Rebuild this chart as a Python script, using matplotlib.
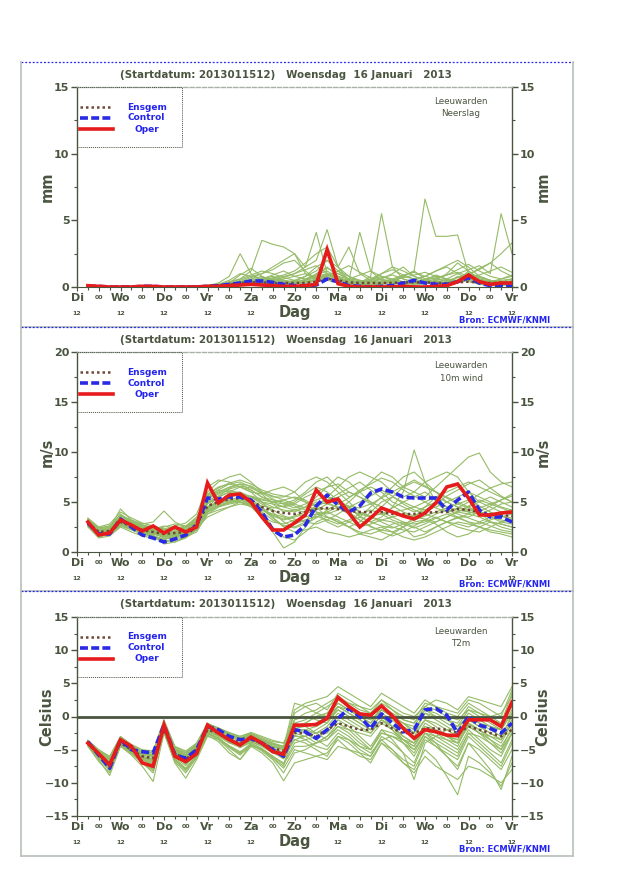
import matplotlib
matplotlib.use('Agg')
import matplotlib.pyplot as plt
from matplotlib.patches import Rectangle
from matplotlib.lines import Line2D
from matplotlib.ticker import MultipleLocator, FixedLocator

plt.rcParams['font.family'] = ['DejaVu Sans']

# ---------------- data ----------------
hours = list(range(6, 241, 6))          # forecast hours after 2013011512
day_hours = list(range(0, 241, 24))
day_names = ['Di', 'Wo', 'Do', 'Vr', 'Za', 'Zo', 'Ma', 'Di', 'Wo', 'Do', 'Vr']
midnight_hours = list(range(12, 241, 24))
midnight_label = '00'
noon_label = '12'

title_text = '(Startdatum: 2013011512)   Woensdag  16 Januari   2013'
station = 'Leeuwarden'
source_text = 'Bron: ECMWF/KNMI'
legend_names = ['Ensgem', 'Control', 'Oper']

# --- Neerslag (mm) ---
precip_oper = [0.1, 0.05, 0, 0, 0, 0.05, 0.05, 0, 0, 0,
               0, 0.05, 0.05, 0.1, 0.15, 0.2, 0.15, 0.1, 0.05, 0.05,
               0.1, 0.2, 2.8, 0.25, 0.05, 0, 0, 0, 0, 0.05,
               0, 0, 0.05, 0.1, 0.4, 0.9, 0.4, 0.2, 0.3, 0.3]
precip_control = [0.05, 0.05, 0, 0, 0, 0.05, 0.05, 0, 0, 0,
                  0, 0.05, 0.1, 0.2, 0.3, 0.45, 0.45, 0.35, 0.2, 0.1,
                  0.1, 0.15, 0.6, 0.4, 0.1, 0.05, 0, 0.05, 0.1, 0.3,
                  0.5, 0.3, 0.2, 0.2, 0.4, 0.7, 0.3, 0.1, 0.1, 0.05]
precip_ensgem = [0.05, 0.03, 0.02, 0.02, 0.02, 0.03, 0.03, 0.02, 0.02, 0.03,
                 0.05, 0.08, 0.12, 0.2, 0.3, 0.35, 0.35, 0.3, 0.3, 0.3,
                 0.3, 0.4, 0.65, 0.5, 0.35, 0.3, 0.3, 0.3, 0.3, 0.35,
                 0.35, 0.35, 0.3, 0.3, 0.35, 0.4, 0.35, 0.3, 0.3, 0.3]
Z10 = [0, 0, 0, 0, 0, 0, 0, 0, 0, 0]
precip_members = [
    [0.1, 0, 0, 0, 0, 0.1, 0, 0, 0, 0] + [0, 0.1, 0.3, 0.8, 2.5, 1.0, 0.5, 0.3, 0.2, 0.3] + [0.5, 1.0, 1.5, 0.8, 0.3, 0.2, 0.1, 0.2, 0.5, 0.3] + [0.2, 0.4, 0.3, 0.2, 0.5, 1.2, 0.6, 0.4, 0.3, 0.5],
    Z10 + [0.1, 0.1, 0.2, 0.4, 0.6, 1.2, 3.5, 3.2, 3.0, 2.5] + [1.0, 0.5, 0.8, 0.3, 0.1, 0, 0, 0.2, 0.5, 0.8] + [0.6, 0.3, 0.2, 0.1, 0.3, 0.5, 0.2, 0.1, 0.1, 0.2],
    Z10 + [0, 0, 0.1, 0.2, 0.5, 0.8, 1.0, 1.5, 2.0, 2.5] + [1.5, 4.1, 1.0, 0.4, 0.2, 0.1, 0.3, 0.6, 0.4, 0.2] + [0.1, 0.3, 0.5, 0.3, 0.8, 0.4, 0.2, 0.3, 0.4, 0.3],
    Z10 + [0, 0, 0, 0.1, 0.3, 0.6, 0.8, 0.5, 0.7, 1.0] + [1.5, 2.0, 4.3, 1.5, 0.5, 4.1, 1.2, 0.5, 0.3, 0.8] + [1.2, 0.6, 0.3, 0.2, 0.5, 1.0, 0.8, 0.5, 0.3, 0.2],
    Z10 + [0, 0.05, 0.1, 0.2, 0.4, 0.5, 0.3, 0.2, 0.1, 0.4] + [0.8, 1.5, 2.0, 1.2, 0.5, 0.3, 0.8, 5.5, 1.5, 0.6] + [0.3, 0.5, 0.9, 0.6, 0.4, 0.5, 0.3, 0.2, 0.4, 0.6],
    Z10 + [0, 0, 0.1, 0.3, 0.9, 1.4, 0.8, 0.4, 0.2, 0.3] + [0.5, 0.8, 1.0, 0.6, 0.3, 0.2, 0.1, 0.3, 0.5, 0.8] + [1.2, 6.6, 3.8, 3.8, 3.9, 1.0, 0.5, 0.3, 0.2, 0.1],
    Z10 + [0, 0, 0, 0.1, 0.2, 0.4, 0.6, 0.8, 0.5, 0.3] + [0.2, 0.5, 0.9, 0.6, 0.3, 0.2, 0.4, 0.6, 1.0, 1.5] + [0.8, 0.5, 0.3, 0.6, 1.0, 1.3, 1.6, 1.0, 5.5, 2.5],
    Z10 + [0, 0.1, 0.2, 0.5, 1.0, 0.8, 0.6, 0.4, 0.3, 0.5] + [0.8, 1.2, 2.0, 1.5, 0.8, 0.4, 0.2, 0.1, 0.2, 0.4] + [0.3, 0.2, 0.5, 1.0, 1.8, 1.2, 0.6, 0.3, 0.2, 0.3],
    Z10 + [0, 0, 0.1, 0.2, 0.3, 0.4, 0.3, 0.2, 0.2, 0.3] + [0.4, 0.5, 0.6, 0.4, 0.3, 0.2, 0.2, 0.3, 0.4, 0.3] + [0.2, 0.3, 0.4, 0.5, 0.4, 0.6, 0.5, 0.4, 0.3, 0.4],
    Z10 + [0, 0, 0.1, 0.2, 0.4, 0.7, 1.0, 1.3, 1.8, 2.0] + [1.2, 0.6, 0.8, 1.0, 0.6, 0.3, 0.5, 1.0, 1.5, 1.2] + [0.8, 0.5, 0.4, 0.3, 0.5, 0.8, 0.6, 0.4, 0.5, 0.6],
    Z10 + [0, 0, 0, 0.1, 0.2, 0.3, 0.5, 0.7, 0.9, 1.2] + [1.8, 2.5, 3.0, 1.5, 3.0, 1.0, 0.5, 0.3, 0.2, 0.3] + [0.5, 0.8, 1.2, 1.5, 1.0, 0.6, 0.4, 0.3, 0.2, 0.2],
    Z10 + [0, 0, 0, 0, 0.1, 0.2, 0.3, 0.5, 0.4, 0.3] + [0.6, 0.9, 1.2, 0.7, 0.4, 0.3, 0.6, 1.0, 1.3, 0.9] + [0.6, 0.8, 1.2, 1.6, 2.0, 1.5, 0.8, 0.5, 0.4, 0.3],
    Z10 + [0, 0, 0.05, 0.1, 0.2, 0.3, 0.4, 0.6, 0.8, 1.0] + [1.3, 1.6, 1.0, 0.8, 0.6, 0.9, 1.2, 0.8, 0.5, 0.3] + [0.4, 0.6, 0.8, 0.6, 0.5, 0.9, 1.4, 1.8, 1.2, 0.8],
    Z10 + [0, 0, 0, 0.1, 0.3, 0.5, 0.7, 0.6, 0.4, 0.3] + [0.5, 0.7, 0.9, 1.2, 0.8, 0.5, 0.3, 0.4, 0.6, 0.9] + [1.1, 0.8, 0.6, 0.5, 0.7, 1.0, 1.3, 1.8, 2.5, 3.3],
    Z10 + [0, 0, 0.1, 0.3, 0.6, 0.9, 1.2, 1.0, 0.7, 0.5] + [0.4, 0.6, 1.0, 0.7, 0.5, 0.4, 0.6, 0.8, 0.6, 0.4] + [0.3, 0.5, 0.7, 0.9, 1.1, 0.8, 0.5, 0.4, 0.6, 0.8],
    Z10 + [0, 0, 0, 0.1, 0.2, 0.4, 0.6, 0.9, 1.2, 0.8] + [0.6, 0.9, 1.4, 1.0, 0.6, 0.5, 0.4, 0.3, 0.5, 0.7] + [0.9, 1.1, 0.8, 0.6, 0.4, 0.6, 0.9, 1.2, 1.5, 1.1],
    Z10 + [0, 0, 0.1, 0.2, 0.3, 0.2, 0.2, 0.4, 0.6, 0.8] + [1.0, 0.7, 0.5, 0.3, 0.2, 0.3, 0.5, 0.7, 0.9, 0.6] + [0.4, 0.3, 0.2, 0.4, 0.7, 1.0, 0.7, 0.5, 0.3, 0.2],
    Z10 + [0, 0, 0, 0, 0.1, 0.2, 0.4, 0.6, 0.5, 0.4] + [0.3, 0.5, 0.8, 1.2, 1.6, 1.1, 0.7, 0.5, 0.3, 0.2] + [0.3, 0.4, 0.6, 0.9, 1.3, 1.7, 1.2, 0.8, 0.6, 0.9],
]

# --- 10m wind (m/s) ---
wind_oper = [3.0, 1.7, 1.9, 3.2, 2.7, 2.1, 2.6, 1.9, 2.5, 2.0,
             2.5, 6.9, 4.9, 5.7, 5.8, 5.0, 3.5, 2.2, 2.2, 2.9,
             3.7, 6.2, 5.0, 5.3, 3.9, 2.5, 3.4, 4.4, 4.0, 3.6,
             3.3, 3.9, 4.9, 6.5, 6.8, 5.4, 3.7, 3.7, 3.9, 4.0]
wind_control = [2.9, 1.8, 1.8, 3.3, 2.5, 1.7, 1.4, 1.0, 1.3, 1.7,
                2.7, 5.4, 5.3, 5.5, 5.5, 5.2, 4.0, 2.2, 1.5, 1.7,
                2.7, 4.6, 5.7, 4.7, 4.0, 4.6, 5.9, 6.3, 6.0, 5.5,
                5.4, 5.4, 5.4, 4.2, 5.2, 6.0, 4.2, 3.5, 3.5, 3.0]
wind_ensgem = [2.9, 2.0, 2.1, 3.0, 2.6, 2.2, 2.0, 1.8, 1.9, 2.0,
               2.8, 4.6, 5.0, 5.3, 5.4, 5.2, 4.5, 4.1, 3.9, 3.8,
               4.0, 4.3, 4.4, 4.3, 4.1, 4.0, 4.0, 4.0, 3.8, 3.8,
               3.8, 3.9, 4.0, 4.0, 4.3, 4.2, 4.0, 3.8, 3.7, 3.6]
wind_members = [
    [3.3, 2.3, 2.5, 3.8, 3.0, 2.6, 2.4, 2.2, 2.4, 2.6, 3.5, 5.5, 6.0, 6.5, 6.8, 6.2, 5.5, 5.0, 4.5, 4.8, 5.5, 6.0, 6.5, 6.8, 6.0, 5.5, 5.0, 4.5, 5.5, 6.5, 7.0, 6.5, 6.0, 5.5, 5.0, 4.5, 5.0, 5.5, 5.0, 4.5],
    [2.6, 1.5, 1.8, 2.6, 2.2, 1.8, 1.5, 1.2, 1.0, 1.4, 2.2, 3.8, 4.2, 4.5, 4.8, 4.6, 3.8, 2.5, 1.5, 1.2, 2.0, 3.0, 3.5, 3.2, 2.5, 2.0, 1.8, 2.2, 2.8, 3.0, 2.5, 2.0, 2.5, 3.0, 3.5, 3.0, 2.5, 2.2, 2.0, 1.8],
    [3.0, 2.2, 2.4, 4.3, 3.2, 2.8, 3.0, 4.1, 3.0, 2.5, 3.0, 5.0, 5.8, 6.2, 5.8, 5.5, 5.2, 5.0, 4.8, 5.2, 6.0, 7.0, 7.5, 6.5, 5.5, 6.0, 7.0, 8.0, 7.5, 6.5, 6.0, 5.5, 6.5, 7.5, 8.5, 9.5, 9.9, 8.0, 7.0, 6.5],
    [2.8, 1.8, 2.0, 3.2, 2.5, 2.0, 1.8, 1.5, 1.7, 1.8, 2.5, 4.8, 5.5, 6.0, 6.5, 6.0, 5.0, 4.0, 3.0, 2.5, 3.0, 4.5, 5.5, 5.0, 4.5, 3.5, 3.0, 3.5, 4.5, 6.0, 10.2, 7.0, 5.0, 4.0, 3.5, 3.5, 4.0, 3.5, 3.0, 2.8],
    [3.1, 2.1, 2.2, 3.1, 2.8, 2.4, 2.2, 1.9, 2.0, 2.2, 3.2, 6.0, 7.0, 7.5, 7.8, 7.0, 6.0, 5.5, 5.5, 6.0, 7.0, 7.5, 7.0, 6.0, 5.0, 4.0, 3.5, 3.0, 2.5, 2.2, 2.0, 2.5, 3.0, 3.5, 4.0, 4.5, 4.0, 3.0, 2.5, 2.2],
    [2.7, 1.9, 2.0, 2.8, 2.4, 2.0, 1.7, 0.8, 1.0, 1.5, 2.4, 3.5, 4.0, 4.5, 5.0, 4.8, 4.0, 2.0, 0.4, 1.0, 2.5, 3.8, 4.0, 3.5, 3.0, 2.5, 2.8, 3.2, 3.0, 2.5, 1.5, 1.8, 2.5, 3.0, 2.8, 2.5, 3.0, 3.5, 3.2, 3.0],
    [3.2, 2.4, 2.6, 3.5, 3.0, 2.5, 2.2, 2.5, 2.8, 2.6, 3.0, 4.5, 5.5, 6.0, 6.0, 5.5, 5.0, 4.8, 4.5, 4.2, 4.0, 4.5, 5.5, 6.5, 7.5, 8.0, 7.5, 7.0, 6.0, 5.5, 6.0, 7.0, 7.5, 8.0, 7.5, 6.0, 5.0, 4.5, 4.0, 3.8],
    [2.9, 2.0, 2.1, 3.0, 2.7, 2.3, 2.0, 1.7, 1.8, 1.9, 2.6, 4.2, 4.8, 5.2, 5.5, 5.6, 5.3, 5.0, 5.2, 5.5, 5.2, 4.5, 3.5, 3.0, 2.5, 3.0, 4.0, 5.0, 5.5, 5.0, 4.5, 4.2, 4.5, 5.0, 5.5, 6.0, 5.5, 5.0, 4.5, 4.2],
    [2.5, 1.4, 1.6, 2.5, 2.0, 1.6, 1.4, 1.0, 1.2, 1.5, 2.0, 3.8, 4.5, 5.0, 5.0, 4.5, 3.5, 3.0, 2.8, 3.2, 3.5, 3.8, 3.5, 3.0, 2.5, 1.8, 1.5, 1.2, 1.8, 2.5, 3.0, 3.2, 2.8, 2.0, 1.5, 1.8, 2.5, 3.0, 2.8, 2.5],
    [3.4, 2.5, 2.8, 4.0, 3.4, 2.9, 2.6, 2.3, 2.6, 2.9, 3.8, 6.5, 7.2, 7.0, 6.5, 6.0, 5.8, 6.2, 6.5, 6.0, 5.0, 4.0, 3.0, 2.5, 3.0, 3.5, 4.5, 5.5, 6.5, 7.5, 8.0, 7.0, 6.0, 5.0, 4.5, 4.0, 3.8, 4.2, 4.8, 5.0],
    [2.8, 1.7, 1.9, 2.9, 2.6, 2.2, 1.9, 1.6, 1.7, 1.8, 2.4, 4.0, 4.6, 4.9, 5.2, 4.8, 4.2, 3.8, 3.5, 3.0, 3.2, 3.5, 4.0, 4.5, 4.2, 3.8, 3.5, 3.2, 3.5, 3.8, 3.5, 3.3, 3.0, 3.5, 4.0, 3.8, 3.5, 3.0, 2.8, 2.5],
    [3.0, 2.0, 2.3, 3.3, 2.9, 2.5, 2.2, 2.0, 2.1, 2.3, 3.0, 5.2, 6.2, 6.8, 7.0, 6.5, 5.8, 4.8, 4.0, 4.2, 4.5, 5.0, 4.8, 4.5, 4.0, 3.2, 2.5, 2.2, 2.0, 2.5, 3.5, 4.5, 5.5, 6.0, 6.5, 7.0, 6.5, 6.0, 5.5, 5.0],
    [2.7, 1.6, 1.7, 2.7, 2.3, 1.9, 1.6, 1.3, 1.5, 1.7, 2.2, 4.4, 5.0, 5.2, 5.0, 4.6, 4.2, 3.6, 3.2, 3.5, 3.8, 4.2, 4.8, 5.5, 6.0, 5.5, 4.8, 4.0, 3.5, 3.0, 2.8, 3.0, 3.5, 3.0, 2.5, 2.2, 2.0, 2.5, 3.0, 3.3],
    [3.1, 2.2, 2.3, 3.4, 2.8, 2.4, 2.1, 1.9, 2.0, 2.1, 2.9, 5.8, 6.5, 6.8, 6.5, 6.2, 5.5, 5.2, 5.0, 4.6, 4.2, 4.0, 3.8, 4.2, 5.0, 6.0, 6.5, 6.0, 5.0, 4.5, 4.0, 4.5, 5.0, 4.5, 4.2, 4.0, 3.8, 3.5, 3.5, 3.8],
    [2.9, 2.1, 2.0, 3.0, 2.5, 2.1, 1.9, 1.7, 1.8, 2.0, 2.7, 4.3, 5.0, 5.5, 5.8, 5.3, 4.5, 3.5, 2.5, 2.0, 2.2, 2.5, 2.0, 1.8, 1.5, 1.8, 2.2, 2.5, 2.0, 1.5, 1.2, 1.5, 2.0, 2.5, 3.0, 2.8, 2.5, 2.0, 1.8, 1.5],
    [3.0, 2.0, 2.2, 3.2, 2.7, 2.3, 2.1, 1.8, 2.0, 2.1, 2.8, 5.0, 5.2, 5.5, 5.8, 5.5, 5.0, 4.5, 4.2, 4.0, 4.5, 5.5, 6.5, 7.5, 7.0, 6.0, 5.0, 4.5, 4.0, 4.2, 4.5, 5.0, 5.5, 5.0, 4.5, 4.2, 4.0, 3.8, 4.0, 4.2],
    [3.2, 2.2, 2.4, 3.6, 3.1, 2.7, 2.5, 2.3, 2.2, 2.4, 3.3, 5.6, 6.2, 6.0, 5.5, 5.0, 4.6, 4.4, 4.6, 5.0, 5.8, 6.5, 6.0, 5.2, 4.5, 4.0, 3.6, 3.8, 4.4, 5.0, 5.5, 6.0, 5.2, 4.5, 4.0, 4.6, 5.2, 4.8, 4.4, 4.0],
    [2.7, 1.8, 1.9, 2.8, 2.4, 2.0, 1.8, 1.6, 1.6, 1.8, 2.5, 4.5, 5.1, 5.6, 5.9, 5.5, 4.8, 4.2, 3.6, 3.3, 3.0, 2.8, 3.2, 3.8, 4.5, 5.0, 5.6, 6.2, 5.6, 4.8, 4.2, 3.8, 3.4, 3.0, 3.4, 3.8, 4.4, 4.8, 5.2, 5.6],
    [3.0, 2.1, 2.3, 3.5, 2.9, 2.4, 2.3, 2.6, 2.4, 2.2, 3.1, 5.3, 5.9, 6.4, 6.8, 6.6, 6.0, 5.6, 5.2, 4.8, 4.4, 4.8, 5.2, 5.8, 6.4, 7.0, 6.2, 5.4, 4.6, 4.0, 3.6, 4.2, 4.8, 5.6, 6.2, 6.8, 7.2, 6.4, 5.6, 5.0],
    [2.8, 1.9, 2.1, 3.1, 2.6, 2.2, 1.9, 1.4, 1.5, 1.9, 2.6, 4.1, 4.7, 5.0, 5.2, 4.9, 4.3, 3.4, 2.6, 2.4, 2.8, 3.4, 4.2, 4.8, 4.4, 3.6, 3.0, 2.6, 2.4, 2.8, 3.2, 3.6, 4.0, 4.4, 4.8, 5.2, 4.6, 4.0, 3.6, 3.2],
    [3.1, 2.0, 2.2, 3.3, 2.8, 2.3, 2.0, 1.8, 1.9, 2.0, 2.8, 4.9, 5.6, 6.3, 6.6, 6.4, 5.9, 5.3, 4.8, 4.4, 4.8, 5.2, 5.6, 5.0, 4.6, 4.4, 4.8, 5.4, 6.0, 6.6, 7.2, 6.6, 6.0, 5.4, 4.8, 4.4, 4.0, 4.6, 5.2, 5.8],
    [2.9, 1.9, 2.0, 2.9, 2.5, 2.1, 1.8, 1.5, 1.6, 1.8, 2.6, 4.4, 4.9, 5.1, 5.3, 5.0, 4.4, 3.7, 3.3, 3.6, 4.0, 4.6, 5.0, 4.4, 3.8, 3.2, 2.6, 2.0, 1.6, 2.0, 2.6, 3.2, 3.8, 4.2, 3.8, 3.4, 3.0, 2.6, 2.2, 2.0],
    [3.3, 2.4, 2.6, 3.7, 3.2, 2.7, 2.4, 2.2, 2.3, 2.5, 3.4, 5.7, 6.4, 6.9, 7.2, 6.8, 6.2, 5.8, 5.6, 5.4, 5.0, 4.6, 4.2, 4.8, 5.4, 6.2, 6.8, 7.4, 7.0, 6.2, 5.6, 5.0, 4.4, 4.0, 4.4, 5.0, 5.8, 6.4, 6.8, 7.0],
    [2.6, 1.6, 1.8, 2.7, 2.3, 1.9, 1.6, 1.3, 1.4, 1.6, 2.3, 4.0, 4.5, 4.8, 5.0, 4.7, 4.0, 3.2, 2.6, 2.8, 3.2, 3.6, 3.2, 2.8, 3.2, 3.8, 4.2, 3.8, 3.2, 2.8, 2.4, 2.8, 3.4, 3.8, 3.4, 3.0, 2.8, 3.2, 3.6, 3.4],
]

# --- T2m (Celsius) ---
t2m_oper = [-4.0, -5.6, -7.3, -3.5, -4.5, -7.0, -7.5, -1.3, -6.0, -6.8,
            -5.6, -1.3, -2.5, -3.5, -4.3, -3.1, -4.0, -5.3, -5.7, -1.3,
            -1.3, -1.2, -0.3, 2.9, 1.5, 0.4, 0.2, 1.6, 0.1, -1.8,
            -3.3, -2.0, -2.3, -2.8, -2.9, -0.5, -0.5, -0.5, -1.5, 2.2]
t2m_control = [-3.8, -5.8, -7.8, -3.5, -5.0, -5.3, -5.5, -1.3, -5.8, -6.3,
               -5.0, -1.5, -2.0, -3.0, -3.5, -3.3, -4.0, -5.0, -6.0, -2.0,
               -2.3, -3.3, -2.0, -0.3, 1.2, 0.0, -1.8, 0.4, -1.0, -2.3,
               -2.0, 1.0, 1.2, 0.2, -2.5, 0.0, -1.3, -1.8, -2.5, -1.0]
t2m_ensgem = [-4.0, -5.8, -7.0, -4.0, -5.0, -6.0, -6.3, -2.0, -5.5, -6.5,
              -5.0, -2.0, -2.5, -3.3, -4.0, -3.5, -4.0, -4.8, -5.2, -2.5,
              -2.5, -3.0, -2.0, -1.0, -1.5, -2.0, -2.0, -1.0, -1.8, -2.5,
              -2.5, -1.8, -1.8, -2.0, -2.5, -1.5, -2.0, -2.5, -3.0, -2.0]
t2m_members = [
    [-3.6, -5.0, -6.0, -3.0, -4.2, -5.0, -5.2, -0.5, -4.5, -5.2, -4.0, -1.0, -1.8, -2.5, -3.0, -2.5, -3.2, -3.8, -4.0, -1.0, -0.5, 0.5, 1.5, 2.5, 2.0, 1.5, 1.0, 2.5, 1.5, 0.5, 0.0, 1.5, 1.0, 0.0, -0.5, 1.0, 0.5, 0.0, 0.5, 3.0],
    [-4.4, -6.5, -8.9, -4.5, -5.8, -7.5, -9.8, -2.5, -7.0, -9.3, -6.5, -3.0, -3.5, -5.0, -6.5, -4.5, -5.5, -7.0, -9.7, -7.0, -6.5, -6.0, -5.5, -3.5, -5.0, -6.0, -6.5, -4.0, -5.5, -7.0, -8.0, -5.0, -6.5, -9.0, -11.8, -6.0, -7.0, -8.5, -10.5, -7.0],
    [-3.8, -5.5, -6.5, -3.5, -4.5, -5.5, -6.0, -1.5, -5.0, -6.0, -4.5, -1.5, -2.0, -3.0, -3.5, -3.0, -3.5, -4.5, -5.0, 0.5, 1.5, 2.0, 1.0, 3.5, 2.5, 1.5, 0.5, 2.0, 1.0, -0.5, -1.0, 1.5, 2.5, 2.0, 1.0, 3.0, 2.5, 2.0, 1.5, 4.5],
    [-4.2, -6.0, -7.5, -4.2, -5.2, -6.5, -7.0, -2.2, -6.0, -7.0, -5.5, -2.3, -3.0, -4.0, -4.5, -3.8, -4.5, -5.5, -6.0, -3.5, -4.0, -5.0, -6.0, -3.0, -4.0, -5.5, -7.0, -4.0, -5.0, -6.5, -7.5, -3.5, -4.5, -5.5, -6.5, -3.0, -4.5, -6.0, -7.5, -4.0],
    [-4.0, -5.7, -7.0, -3.8, -5.0, -6.2, -6.5, -1.8, -5.5, -6.8, -5.2, -1.8, -2.6, -3.5, -4.2, -3.2, -4.0, -5.0, -5.5, -1.5, -1.0, -1.5, -0.5, 1.0, 0.0, -1.0, -2.0, 0.5, -0.5, -2.0, -3.0, -0.5, -1.5, -3.0, -4.0, -1.0, -2.5, -4.0, -5.0, -1.5],
    [-3.9, -5.6, -6.8, -3.7, -4.8, -5.8, -6.2, -1.2, -5.2, -6.2, -4.8, -1.8, -2.2, -2.8, -3.5, -2.8, -3.8, -4.5, -4.8, 1.0, 2.0, 2.5, 3.0, 4.5, 3.5, 2.5, 1.5, 3.5, 2.5, 1.5, 0.5, 2.5, 1.5, 0.5, 0.0, 2.0, 1.0, 0.0, -1.0, 1.5],
    [-4.3, -6.2, -8.0, -4.3, -5.5, -6.8, -8.0, -2.0, -6.5, -8.0, -6.0, -2.5, -3.2, -4.5, -5.5, -4.0, -4.8, -6.0, -7.0, -4.0, -3.5, -3.0, -2.5, -0.5, -1.5, -3.0, -4.5, -2.0, -3.5, -5.5, -7.0, -3.0, -4.0, -5.0, -6.0, -2.5, -4.0, -5.5, -7.0, -3.5],
    [-4.1, -5.8, -7.2, -4.0, -5.0, -6.0, -6.5, -1.8, -5.8, -6.5, -5.0, -2.0, -2.8, -3.6, -4.3, -3.6, -4.2, -5.0, -5.8, -2.0, -2.0, -2.5, -2.0, 0.0, -1.0, -2.0, -2.5, -0.5, -1.5, -3.0, -4.0, -2.0, -3.0, -4.0, -5.0, -2.0, -3.5, -5.0, -6.0, -2.5],
    [-3.7, -5.2, -6.3, -3.2, -4.4, -5.3, -5.5, -1.0, -4.8, -5.5, -4.2, -1.2, -1.8, -2.6, -3.2, -2.6, -3.4, -4.0, -4.5, -1.8, -2.5, -3.5, -4.5, -2.5, -3.5, -5.0, -6.0, -3.0, -4.0, -5.5, -9.5, -4.0, -3.0, -2.0, -1.5, 0.0, -1.0, -2.0, -3.0, 0.0],
    [-4.5, -6.8, -8.5, -4.4, -5.6, -7.0, -8.5, -2.3, -6.8, -8.5, -6.2, -2.8, -3.8, -5.5, -6.5, -4.2, -5.2, -6.5, -8.5, -5.5, -5.0, -4.0, -3.0, -1.0, -2.0, -3.5, -5.0, -2.5, -3.0, -4.0, -5.0, -2.5, -4.0, -6.0, -8.0, -4.0, -6.0, -8.0, -11.0, -6.0],
    [-3.8, -5.4, -6.6, -3.4, -4.6, -5.6, -5.8, -0.8, -4.8, -5.8, -4.4, -1.4, -2.0, -2.7, -3.3, -2.7, -3.5, -4.2, -4.5, 2.0, 1.5, 0.5, 0.0, 2.0, 1.0, 0.0, -1.0, 1.0, 0.0, -1.0, -2.0, 0.5, -0.5, -1.5, -2.5, 0.0, -1.0, -1.5, -2.0, 1.0],
    [-4.1, -6.0, -7.6, -4.1, -5.3, -6.6, -7.2, -2.1, -6.2, -7.4, -5.6, -2.2, -2.9, -3.9, -4.7, -3.9, -4.4, -5.3, -6.2, -3.0, -3.0, -2.0, -1.0, 1.5, 0.5, -0.5, -1.5, 1.0, 0.0, -1.0, -2.5, 0.5, 0.0, -1.0, -2.0, 0.5, -0.5, -1.5, -2.0, 2.0],
    [-3.9, -5.5, -6.7, -3.6, -4.7, -5.7, -6.0, -1.4, -5.1, -6.1, -4.7, -1.6, -2.3, -3.1, -3.7, -3.1, -3.7, -4.6, -5.0, -1.0, -1.5, -2.5, -3.5, -2.0, -3.0, -4.5, -5.5, -3.5, -5.0, -7.0, -8.5, -6.0, -7.5, -8.5, -9.5, -7.5, -8.0, -9.0, -10.0, -8.0],
    [-4.2, -6.1, -7.8, -4.2, -5.4, -6.9, -7.6, -2.4, -6.4, -7.8, -5.8, -2.6, -3.4, -4.6, -5.6, -4.4, -5.0, -6.2, -7.5, -2.0, -1.0, 0.0, 0.5, 2.0, 1.0, 0.0, -0.5, 1.0, 0.0, -1.0, -1.5, 1.0, 0.0, -0.5, -1.0, 1.5, 0.5, -0.5, -1.0, 3.5],
    [-4.0, -5.9, -7.3, -3.9, -5.1, -6.3, -6.8, -1.6, -5.6, -6.7, -5.1, -1.7, -2.5, -3.4, -4.1, -3.4, -4.1, -5.1, -5.6, -2.5, -3.0, -4.0, -3.0, -1.5, -2.0, -2.5, -3.0, -1.0, -2.0, -3.5, -4.5, -1.5, -2.5, -3.5, -4.5, -1.0, -2.0, -3.0, -4.0, -1.0],
    [-3.6, -5.1, -6.1, -3.1, -4.3, -5.2, -5.4, -0.7, -4.6, -5.4, -4.1, -1.1, -1.7, -2.4, -3.0, -2.4, -3.0, -3.6, -4.0, -0.5, 0.5, 1.0, 2.0, 3.0, 2.0, 1.0, 0.5, 2.5, 1.0, 0.0, -0.5, 2.0, 1.5, 1.0, 0.5, 2.5, 2.0, 1.0, 0.0, 4.0],
    [-4.0, -5.8, -7.4, -3.9, -5.1, -6.4, -7.0, -1.9, -5.8, -7.2, -5.4, -2.0, -2.7, -3.8, -4.6, -3.6, -4.3, -5.4, -6.4, -3.5, -3.0, -2.5, -1.5, 0.5, -0.5, -1.5, -2.5, -0.5, -1.5, -3.0, -4.0, -1.0, -2.0, -3.0, -3.5, -0.5, -1.5, -2.5, -3.5, 0.5],
    [-3.9, -5.6, -7.0, -3.7, -4.9, -6.0, -6.4, -1.5, -5.3, -6.4, -4.9, -1.6, -2.4, -3.3, -4.0, -3.3, -3.9, -4.8, -5.4, -1.8, -1.5, -1.0, 0.0, 1.5, 0.5, -0.5, -1.5, 0.0, -1.5, -3.5, -5.0, -2.5, -3.5, -4.5, -5.5, -2.5, -3.0, -4.0, -5.5, -2.5],
    [-4.2, -6.2, -8.0, -4.3, -5.4, -6.8, -7.8, -2.2, -6.4, -7.9, -5.9, -2.4, -3.3, -4.4, -5.3, -4.2, -4.9, -6.0, -7.2, -4.5, -4.5, -4.0, -3.5, -1.5, -2.5, -4.0, -5.0, -2.0, -2.5, -3.5, -4.5, -2.0, -2.5, -3.0, -4.0, -1.5, -2.5, -3.5, -4.5, -2.0],
    [-3.7, -5.3, -6.4, -3.3, -4.5, -5.4, -5.7, -1.1, -4.9, -5.7, -4.3, -1.3, -1.9, -2.7, -3.3, -2.7, -3.4, -4.1, -4.6, -0.5, 0.0, -0.5, -1.0, 1.0, 0.0, -1.0, -2.0, -0.5, -2.0, -4.0, -6.0, -3.0, -4.5, -6.0, -7.5, -4.0, -5.0, -6.5, -8.0, -5.0],
    [-4.1, -5.9, -7.4, -4.0, -5.1, -6.2, -6.7, -1.7, -5.7, -6.6, -5.1, -1.9, -2.7, -3.6, -4.4, -3.5, -4.2, -5.1, -5.9, -2.2, -2.0, -1.5, -0.5, 1.5, 1.0, 0.0, -1.0, 1.5, 0.5, -0.5, -1.0, 1.0, 0.5, -0.5, -1.5, 1.0, 0.0, -1.0, -2.0, 0.5],
    [-4.3, -6.3, -8.2, -4.3, -5.5, -6.9, -8.2, -2.1, -6.6, -8.2, -6.1, -2.6, -3.4, -4.7, -5.8, -4.3, -5.0, -6.3, -7.8, -5.0, -5.5, -6.0, -6.5, -4.5, -5.0, -5.5, -6.0, -3.5, -3.0, -3.5, -4.0, -1.5, -2.0, -3.0, -3.5, -1.0, -2.0, -3.5, -5.0, -2.5],
    [-3.8, -5.3, -6.5, -3.4, -4.6, -5.5, -5.9, -1.2, -5.0, -5.9, -4.5, -1.5, -2.1, -2.9, -3.4, -2.9, -3.6, -4.3, -4.7, -1.5, -1.0, 0.0, 0.5, 2.5, 1.5, 0.5, 0.0, 1.5, 0.0, -1.5, -2.5, -0.5, -1.0, -2.0, -3.0, -0.5, -1.5, -2.5, -3.5, -0.5],
    [-4.0, -5.7, -7.1, -3.8, -5.0, -6.1, -6.6, -1.7, -5.5, -6.6, -5.0, -1.8, -2.6, -3.5, -4.2, -3.4, -4.1, -5.0, -5.7, -2.8, -3.5, -4.5, -5.0, -3.0, -3.5, -4.5, -5.0, -2.5, -3.0, -4.0, -5.5, -2.5, -3.0, -3.5, -4.0, -1.5, -2.5, -3.0, -3.5, -1.0],
]

# ---------------- style ----------------
TXT = '#4a5540'
GREEN = '#94bb66'
BLUE = '#2a2ae6'
RED = '#e61c1c'
ENS = '#6e4636'
SRC = '#2424f0'

W, H = 640, 880
fig = plt.figure(figsize=(6.4, 8.8), dpi=100)
fig.patch.set_facecolor('white')

def fx(px):
    return px / W

def fy(py):
    return 1 - py / H

panels = [
    dict(frame=(62, 327), ax=(87, 287), ylim=(0, 15), ticks=[0, 5, 10, 15], label='mm',
         name='Neerslag', members=precip_members, ens=precip_ensgem, ctl=precip_control,
         op=precip_oper, zero=False),
    dict(frame=(327, 591), ax=(352, 552), ylim=(0, 20), ticks=[0, 5, 10, 15, 20], label='m/s',
         name='10m wind', members=wind_members, ens=wind_ensgem, ctl=wind_control,
         op=wind_oper, zero=False),
    dict(frame=(591, 856), ax=(617, 816), ylim=(-15, 15), ticks=[-15, -10, -5, 0, 5, 10, 15],
         label='Celsius', name='T2m', members=t2m_members, ens=t2m_ensgem, ctl=t2m_control,
         op=t2m_oper, zero=True),
]

AX_L, AX_R = 77, 512
FR_L, FR_R = 21, 573

for p in panels:
    f0, f1 = p['frame']
    # panel frame
    fig.add_artist(Line2D([fx(FR_L), fx(FR_R)], [fy(f0), fy(f0)], transform=fig.transFigure,
                          color=SRC, lw=0.9, ls=(0, (1.5, 1.5))))
    for xx in (FR_L, FR_R):
        fig.add_artist(Line2D([fx(xx), fx(xx)], [fy(f0), fy(f1)], transform=fig.transFigure,
                              color='#b8c0b8', lw=1.2))
    fig.add_artist(Line2D([fx(FR_L), fx(FR_R)], [fy(f1), fy(f1)], transform=fig.transFigure,
                          color='#b8c0b8', lw=1.2))

    a0, a1 = p['ax']
    ax = fig.add_axes([fx(AX_L), fy(a1), fx(AX_R) - fx(AX_L), (a1 - a0) / H])
    ax.set_xlim(0, 240)
    ax.set_ylim(*p['ylim'])

    for m in p['members']:
        ax.plot(hours, m, color=GREEN, lw=0.8, zorder=2)
    if p['zero']:
        ax.axhline(0, color=TXT, lw=2.0, zorder=2.5)
    ax.plot(hours, p['ens'], color=ENS, lw=1.8, ls=(0, (1, 1.2)), zorder=3)
    ax.plot(hours, p['ctl'], color=BLUE, lw=2.6, ls=(0, (2.2, 0.9)), zorder=4)
    ax.plot(hours, p['op'], color=RED, lw=2.6, zorder=5, solid_joinstyle='miter')

    # spines
    for s in ('left', 'right'):
        ax.spines[s].set_color(TXT)
        ax.spines[s].set_linewidth(1.0)
    ax.spines['top'].set_color('#a8b0a8')
    ax.spines['top'].set_linestyle((0, (3, 1.5)))
    ax.spines['top'].set_linewidth(1.0)
    ax.spines['bottom'].set_color(TXT)
    ax.spines['bottom'].set_linestyle((0, (1, 1)))
    ax.spines['bottom'].set_linewidth(0.8)

    # y axis
    ax.yaxis.set_major_locator(FixedLocator(p['ticks']))
    ax.yaxis.set_minor_locator(MultipleLocator(2.5))
    ax.tick_params(axis='y', which='both', direction='out', left=True, right=True,
                   labelleft=True, labelright=True, color=TXT, labelcolor=TXT)
    ax.tick_params(axis='y', which='major', length=4, width=1, labelsize=8, pad=1.5)
    ax.tick_params(axis='y', which='minor', length=2.5, width=0.8)
    for lab in ax.get_yticklabels():
        lab.set_fontweight('bold')

    # x axis
    ax.xaxis.set_major_locator(MultipleLocator(12))
    ax.xaxis.set_minor_locator(MultipleLocator(6))
    ax.tick_params(axis='x', which='major', direction='out', length=3, width=0.8,
                   color=TXT, labelbottom=False)
    ax.tick_params(axis='x', which='minor', direction='out', length=2, width=0.8, color=TXT)
    axh = a1 - a0
    xt = ax.get_xaxis_transform()
    for h, nm in zip(day_hours, day_names):
        ax.text(h, -11 / axh, nm, transform=xt, ha='center', va='center',
                fontsize=8, fontweight='bold', color=TXT)
        if h != 120:   # hidden behind the axis title "Dag" in the original
            ax.text(h, -26 / axh, noon_label, transform=xt, ha='center', va='center',
                    fontsize=4.5, fontweight='bold', color=TXT)
    for h in midnight_hours:
        ax.text(h, -10 / axh, midnight_label, transform=xt, ha='center', va='center',
                fontsize=4.5, fontweight='bold', color=TXT)
    ax.text(120, -25 / axh, 'Dag', transform=xt, ha='center', va='center',
            fontsize=10.5, fontweight='bold', color=TXT)

    # axis labels both sides
    ax.text(-30 / 435, 0.5, p['label'], transform=ax.transAxes, rotation=90,
            ha='center', va='center', fontsize=10.5, fontweight='bold', color=TXT)
    ax.text(1 + 31 / 435, 0.5, p['label'], transform=ax.transAxes, rotation=90,
            ha='center', va='center', fontsize=10.5, fontweight='bold', color=TXT)

    # title
    fig.text(fx(286), fy(f0 + 13), title_text, ha='center', va='center',
             fontsize=7.4, fontweight='bold', color=TXT)
    # station / parameter
    fig.text(fx(461), fy(a0 + 14), station, ha='center', va='center', fontsize=6.3, color=TXT)
    fig.text(fx(461), fy(a0 + 26), p['name'], ha='center', va='center', fontsize=6.3, color=TXT)
    # source
    fig.text(fx(459), fy(f1 - 7), source_text, ha='left', va='center', fontsize=6,
             fontweight='bold', color=SRC)

    # legend box
    bw = (182 - AX_L) / 435
    ax.add_patch(Rectangle((0, 0.70), bw, 0.30, transform=ax.transAxes, fill=False,
                           ec=TXT, lw=0.7, ls=(0, (1, 1)), zorder=6, clip_on=False))
    ly = [0.90, 0.845, 0.79]
    styles = [dict(color=ENS, lw=1.8, ls=(0, (1, 1.2))),
              dict(color=BLUE, lw=2.6, ls=(0, (2.2, 0.9))),
              dict(color=RED, lw=2.6, ls='-')]
    for yy, nm, st in zip(ly, legend_names, styles):
        ax.plot([3 / 435, 36 / 435], [yy, yy], transform=ax.transAxes, clip_on=False,
                zorder=6, **st)
        ax.text(0.16, yy, nm, transform=ax.transAxes, ha='center', va='center',
                fontsize=6.5, fontweight='bold', color=SRC, zorder=6)

fig.savefig('out.png', dpi=100, facecolor='white')
